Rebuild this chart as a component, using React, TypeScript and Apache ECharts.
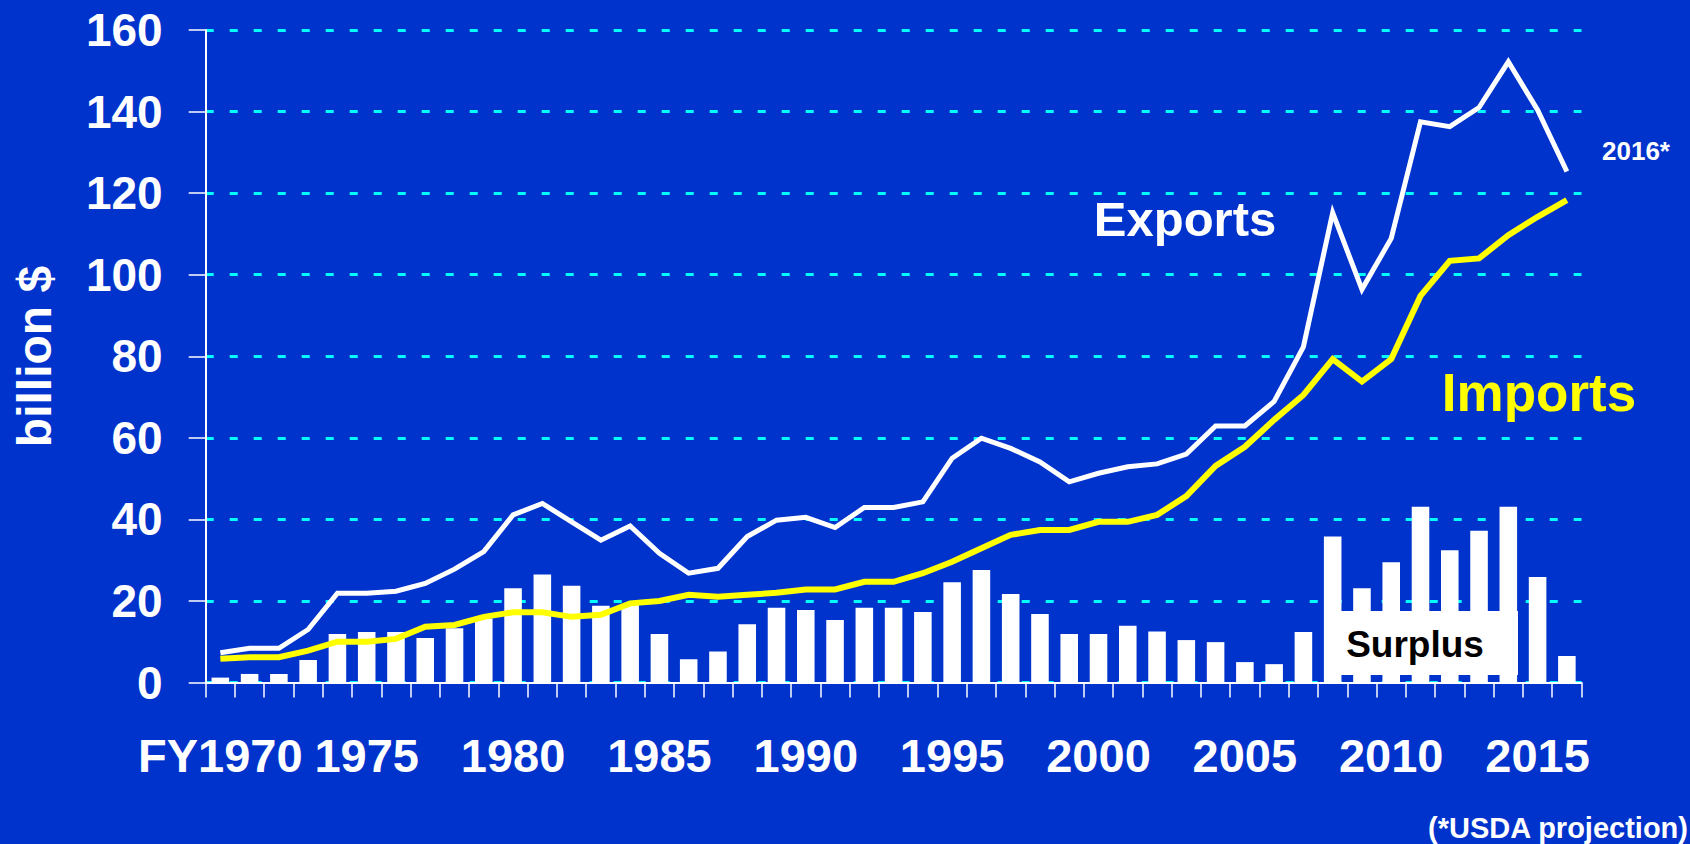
import React, { useEffect, useRef } from "react";
import * as echarts from "echarts";

const years = [
  "1970", "1971", "1972", "1973", "1974", "1975", "1976", "1977", "1978", "1979",
  "1980", "1981", "1982", "1983", "1984", "1985", "1986", "1987", "1988", "1989",
  "1990", "1991", "1992", "1993", "1994", "1995", "1996", "1997", "1998", "1999",
  "2000", "2001", "2002", "2003", "2004", "2005", "2006", "2007", "2008", "2009",
  "2010", "2011", "2012", "2013", "2014", "2015", "2016",
];

const exportsBn = [
  7.3, 8.4, 8.4, 13.0, 21.9, 21.9, 22.4, 24.3, 27.8, 32.1,
  41.1, 43.9, 39.4, 34.9, 38.4, 31.7, 26.8, 28.0, 35.8, 39.8,
  40.5, 38.0, 42.9, 42.9, 44.3, 55.0, 59.9, 57.4, 54.1, 49.2,
  51.3, 52.9, 53.6, 56.0, 62.9, 62.9, 68.9, 82.3, 115.2, 96.4,
  108.9, 137.5, 136.3, 141.0, 152.2, 140.4, 125.3,
];

const importsBn = [
  5.8, 6.2, 6.2, 7.8, 10.0, 10.0, 10.7, 13.7, 14.1, 16.1,
  17.2, 17.2, 16.1, 16.6, 19.4, 20.0, 21.5, 21.0, 21.5, 22.0,
  22.8, 22.8, 24.7, 24.7, 26.8, 29.6, 32.9, 36.2, 37.4, 37.4,
  39.4, 39.4, 41.1, 45.7, 53.1, 57.8, 64.4, 70.5, 79.3, 73.8,
  79.3, 94.8, 103.4, 104.0, 109.7, 114.2, 118.3,
];

const surplusBn = [
  1.2, 2.1, 2.1, 5.5, 11.9, 12.4, 12.4, 10.9, 13.3, 15.7,
  23.1, 26.5, 23.7, 18.8, 19.0, 11.9, 5.7, 7.6, 14.3, 18.3,
  17.8, 15.3, 18.3, 18.3, 17.3, 24.6, 27.6, 21.7, 16.8, 11.9,
  11.9, 13.9, 12.5, 10.4, 9.9, 5.0, 4.5, 12.4, 35.8, 23.1,
  29.5, 43.1, 32.4, 37.2, 43.1, 25.9, 6.5,
];

const yTicks = [0, 20, 40, 60, 80, 100, 120, 140, 160];
const firstYearPrefix = "FY";

const FONT = '"Liberation Sans", Arial, Helvetica, sans-serif';
const BG = "#0033CC";

export default function App() {
  const ref = useRef<HTMLDivElement>(null);

  useEffect(() => {
    if (!ref.current) return;
    const chart = echarts.init(ref.current, null, { renderer: "svg" });
    const option = {
      animation: false,
      backgroundColor: BG,
      grid: { left: 205.7, right: 108.5, top: 30, bottom: 161.5, containLabel: false },
      xAxis: {
        type: "category",
        data: years,
        boundaryGap: true,
        axisLine: { show: true, lineStyle: { color: "#ffffff", width: 2 } },
        axisTick: { show: true, interval: 0, length: 15, lineStyle: { color: "#ffffff", width: 1.5 } },
        axisLabel: {
          interval: 4,
          margin: 49,
          color: "#ffffff",
          fontFamily: FONT,
          fontWeight: "bold",
          fontSize: 47,
          formatter: (v: string, i: number) => (i === 0 ? firstYearPrefix + v : v),
        },
        splitLine: { show: false },
      },
      yAxis: {
        type: "value",
        min: yTicks[0],
        max: yTicks[yTicks.length - 1],
        interval: yTicks[1] - yTicks[0],
        axisLine: { show: true, lineStyle: { color: "#ffffff", width: 2 } },
        axisTick: { show: true, length: 17, lineStyle: { color: "#ffffff", width: 1.5 } },
        axisLabel: {
          margin: 43,
          color: "#ffffff",
          fontFamily: FONT,
          fontWeight: "bold",
          fontSize: 46,
        },
        splitLine: {
          show: true,
          lineStyle: { color: "#00FFFF", width: 3, type: [8, 16] },
        },
      },
      series: [
        {
          name: "Surplus",
          type: "bar",
          data: surplusBn,
          barWidth: "60%",
          itemStyle: { color: "#ffffff" },
          z: 2,
        },
        {
          name: "Imports",
          type: "line",
          data: importsBn,
          symbol: "none",
          lineStyle: { color: "#FFFF00", width: 6, join: "miter" },
          z: 3,
        },
        {
          name: "Exports",
          type: "line",
          data: exportsBn,
          symbol: "none",
          lineStyle: { color: "#ffffff", width: 5, join: "miter" },
          z: 4,
        },
      ],
      graphic: [
        {
          type: "text",
          x: 34,
          y: 356.5,
          rotation: Math.PI / 2,
          style: {
            text: "billion $",
            fill: "#ffffff",
            font: `bold 48px ${FONT}`,
            align: "center",
            verticalAlign: "middle",
          },
          z: 100,
        },
        {
          type: "text",
          x: 1185,
          y: 219,
          style: {
            text: "Exports",
            fill: "#ffffff",
            font: `bold 49px ${FONT}`,
            align: "center",
            verticalAlign: "middle",
          },
          z: 100,
        },
        {
          type: "text",
          x: 1539,
          y: 392,
          style: {
            text: "Imports",
            fill: "#FFFF00",
            font: `bold 53px ${FONT}`,
            align: "center",
            verticalAlign: "middle",
          },
          z: 100,
        },
        {
          type: "text",
          x: 1636,
          y: 151,
          style: {
            text: "2016*",
            fill: "#ffffff",
            font: `bold 26px ${FONT}`,
            align: "center",
            verticalAlign: "middle",
          },
          z: 100,
        },
        {
          type: "text",
          x: 1688,
          y: 828,
          style: {
            text: "(*USDA projection)",
            fill: "#ffffff",
            font: `bold 29px ${FONT}`,
            align: "right",
            verticalAlign: "middle",
          },
          z: 100,
        },
        {
          type: "rect",
          shape: { x: 1324, y: 611, width: 194, height: 64 },
          style: { fill: "#ffffff" },
          z: 100,
        },
        {
          type: "text",
          x: 1415,
          y: 644.5,
          style: {
            text: "Surplus",
            fill: "#000000",
            font: `bold 37px ${FONT}`,
            align: "center",
            verticalAlign: "middle",
          },
          z: 101,
        },
      ],
    };
    chart.setOption(option as any);
    return () => chart.dispose();
  }, []);

  return (
    <div
      ref={ref}
      style={{ position: "fixed", left: 0, top: 0, width: 1690, height: 844 }}
    />
  );
}
